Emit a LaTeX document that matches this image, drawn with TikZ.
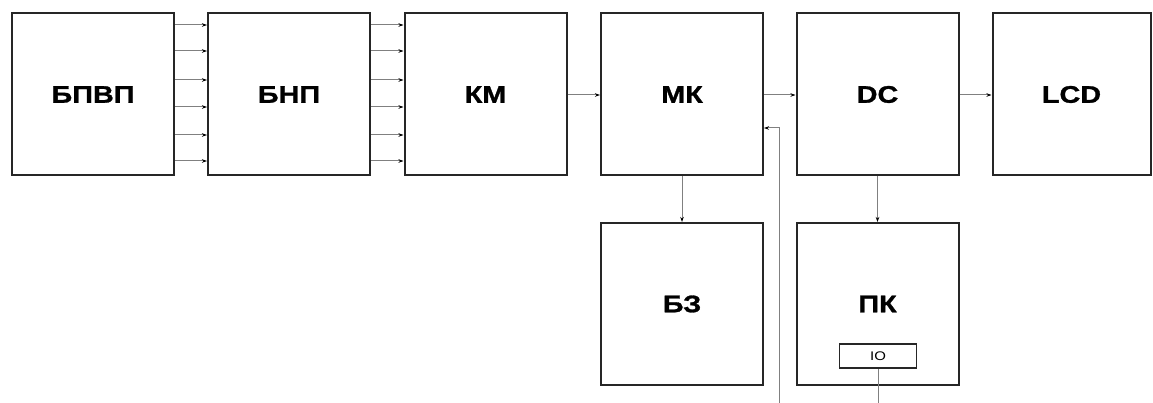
\documentclass[tikz,border=0pt]{standalone}
\usepackage{fontspec}
\setmainfont{Liberation Sans}
\newfontfamily\widefont[FakeStretch=1.2,BoldFeatures={FakeBold=1.2}]{Liberation Sans}
\usetikzlibrary{arrows.meta}
\begin{document}
\begin{tikzpicture}[x=1pt,y=-1pt,
  blk/.style={draw=black!85,line width=2pt,minimum width=162pt,minimum height=162pt,inner sep=0pt,
    font=\widefont\fontsize{24}{26}\selectfont\bfseries},
  iobox/.style={draw=black!85,line width=1.6pt,minimum width=77pt,minimum height=24pt,inner sep=0pt,
    font=\widefont\fontsize{12.5}{14}\selectfont},
  conn/.style={draw=black!50,line width=1pt,-{Stealth[length=5pt,width=3.5pt,black]}},
  wire/.style={draw=black!50,line width=1pt}]
\useasboundingbox (0,0) rectangle (1153,403);
\node[blk] (bpvp) at (93,94.5) {БПВП};
\node[blk] (bnp) at (289,94.5) {БНП};
\node[blk] (km) at (485.5,94.5) {КМ};
\node[blk] (mk) at (682,94.5) {МК};
\node[blk] (dc) at (877.5,94.5) {DC};
\node[blk,minimum width=158pt] (lcd) at (1071.5,94.5) {LCD};
\node[blk] (bz) at (682,304) {БЗ};
\node[blk] (pk) at (877.5,304) {ПК};
\node[iobox] (io) at (878,356) {IO};
\coordinate (vb) at (779,403);
\coordinate (vt) at (779,128);
\coordinate (iob) at (878,403);
\foreach \y in {25,51,80,107,135,161}{
  \draw[conn] (bpvp.east |- 0,\y) -- (bnp.west |- 0,\y);
  \draw[conn] (bnp.east |- 0,\y) -- (km.west |- 0,\y);
}
\draw[conn] (km.east |- 0,95) -- (mk.west |- 0,95);
\draw[conn] (mk.east |- 0,95) -- (dc.west |- 0,95);
\draw[conn] (dc.east |- 0,95) -- (lcd.west |- 0,95);
\draw[conn] (mk.south) -- (bz.north);
\draw[conn] (dc.south) -- (pk.north);
\draw[conn] (vb) -- (vt) -- (mk.east |- vt);
\draw[wire] (io.south) -- (iob);
\end{tikzpicture}
\end{document}
